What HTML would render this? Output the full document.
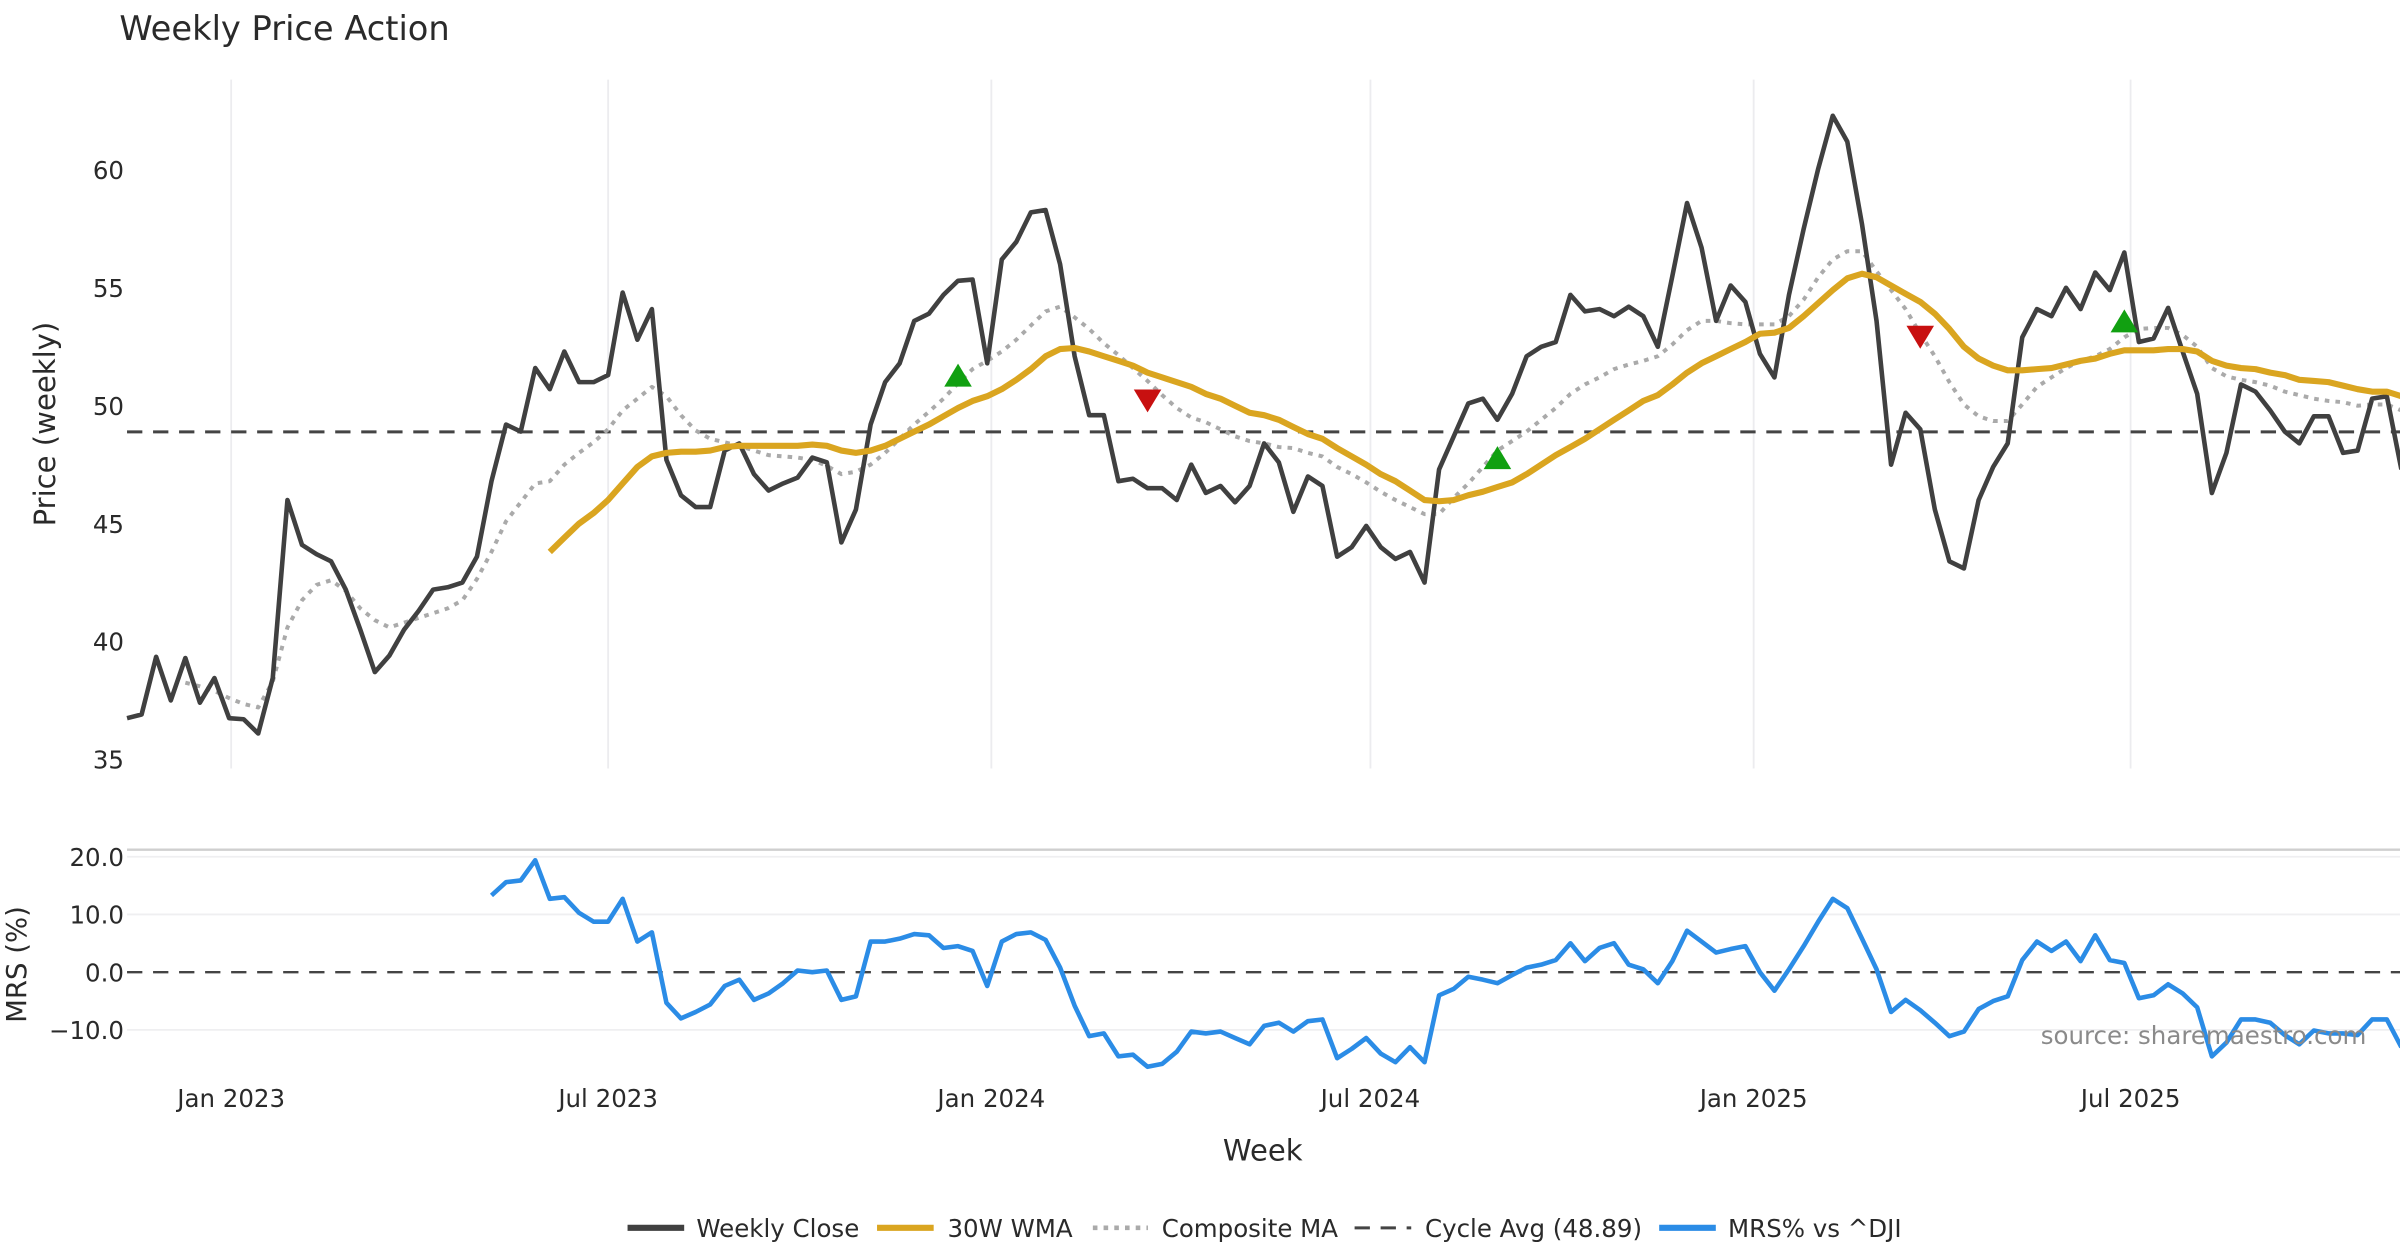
<!DOCTYPE html>
<html><head><meta charset="utf-8"><style>
html,body{margin:0;padding:0;background:#fff;}
svg{display:block;font-family:"DejaVu Sans","Liberation Sans",sans-serif;}
.tick{font-family:"DejaVu Sans","Liberation Sans",sans-serif;font-size:16px;fill:#2a2a2a;}
</style></head><body>
<svg id="chart" width="2400" height="1260" viewBox="0 0 1568 823" preserveAspectRatio="none" xmlns="http://www.w3.org/2000/svg">
<rect width="1568" height="823" fill="#fff"/>
<text x="78" y="26" font-size="22" fill="#2a2a2a">Weekly Price Action</text>
<g id="grid"></g>
<g id="series"></g>
<g id="axes"></g>
<text x="1546" y="682" font-size="16" fill="#8a8a8a" text-anchor="end">source: sharemaestro.com</text>
<text x="825" y="758" font-size="19" fill="#2a2a2a" text-anchor="middle">Week</text>
<text transform="translate(36,277) rotate(-90)" font-size="19" fill="#2a2a2a" text-anchor="middle">Price (weekly)</text>
<text transform="translate(17,630) rotate(-90)" font-size="18" fill="#2a2a2a" text-anchor="middle">MRS (%)</text>
<g id="legend">
 <g><line x1="410" y1="802" x2="447" y2="802" stroke="#404040" stroke-width="4"/><text x="455" y="808" class="tick">Weekly Close</text></g>
 <g><line x1="573" y1="802" x2="610" y2="802" stroke="#DAA520" stroke-width="4"/><text x="619" y="808" class="tick">30W WMA</text></g>
 <g><line x1="714" y1="802" x2="750" y2="802" stroke="#aaa" stroke-width="3" stroke-dasharray="3,4"/><text x="759" y="808" class="tick">Composite MA</text></g>
 <g><line x1="885" y1="802" x2="922" y2="802" stroke="#444" stroke-width="2" stroke-dasharray="10,7"/><text x="931" y="808" class="tick">Cycle Avg (48.89)</text></g>
 <g><line x1="1084" y1="802" x2="1121" y2="802" stroke="#2b8ce6" stroke-width="4"/><text x="1129" y="808" class="tick">MRS% vs ^DJI</text></g>
</g>
</svg>
<script>
const closeValues=[36.75,36.9,39.35,37.5,39.3,37.4,38.45,36.75,36.7,36.1,
38.45,46.0,44.1,43.7,43.4,42.2,40.5,38.7,39.4,40.5,
41.3,42.2,42.3,42.5,43.6,46.8,49.2,48.9,51.6,50.7,
52.3,51.0,51.0,51.3,54.8,52.8,54.1,47.7,46.2,45.7,
45.7,48.1,48.4,47.1,46.4,46.7,46.95,47.8,47.6,44.2,
45.6,49.2,51.0,51.8,53.6,53.9,54.7,55.3,55.35,51.8,
56.2,56.95,58.2,58.3,56.0,52.1,49.6,49.6,46.8,46.9,
46.5,46.5,46.0,47.5,46.3,46.6,45.9,46.6,48.4,47.6,
45.5,47.0,46.6,43.6,44.0,44.9,44.0,43.5,43.8,42.5,
47.3,48.7,50.1,50.3,49.4,50.5,52.1,52.5,52.7,54.7,
54.0,54.1,53.8,54.2,53.8,52.5,55.5,58.6,56.7,53.6,
55.1,54.4,52.2,51.2,54.7,57.5,60.05,62.3,61.2,57.7,
53.6,47.5,49.7,49.0,45.6,43.4,43.1,46.0,47.4,48.4,
52.9,54.1,53.8,55.0,54.1,55.65,54.9,56.5,52.7,52.85,
54.15,52.3,50.5,46.3,48.0,50.9,50.6,49.8,48.9,48.4,
49.55,49.55,48.0,48.1,50.3,50.4,47.3];
const wmaStart=29;
const wmaValues=[43.8,44.4,45.0,45.45,46.0,46.7,47.4,47.85,48.0,48.05,
48.05,48.1,48.25,48.3,48.3,48.3,48.3,48.3,48.35,48.3,
48.1,48.0,48.1,48.3,48.6,48.9,49.2,49.55,49.9,50.2,
50.4,50.7,51.1,51.55,52.1,52.4,52.45,52.3,52.1,51.9,
51.7,51.4,51.2,51.0,50.8,50.5,50.3,50.0,49.7,49.6,
49.4,49.1,48.8,48.6,48.2,47.85,47.5,47.1,46.8,46.4,
46.0,45.95,46.0,46.2,46.35,46.55,46.75,47.1,47.5,47.9,
48.25,48.6,49.0,49.4,49.8,50.2,50.45,50.9,51.4,51.8,
52.1,52.4,52.7,53.05,53.1,53.3,53.8,54.35,54.9,55.4,
55.6,55.45,55.1,54.75,54.4,53.9,53.25,52.5,52.0,51.7,
51.5,51.5,51.55,51.6,51.75,51.9,52.0,52.2,52.35,52.35,
52.35,52.4,52.4,52.3,51.9,51.7,51.6,51.55,51.4,51.3,
51.1,51.05,51.0,50.85,50.7,50.6,50.6,50.4];
const compStart=4;
const compValues=[38.25,38.1,37.9,37.6,37.35,37.2,38.3,40.6,41.75,42.4,
42.6,42.15,41.4,40.9,40.6,40.8,41.0,41.2,41.4,41.75,
42.65,43.8,45.1,45.9,46.7,46.8,47.5,48.0,48.45,49.0,
49.8,50.3,50.8,50.4,49.6,48.95,48.6,48.45,48.3,48.1,
47.9,47.85,47.8,47.7,47.45,47.1,47.2,47.5,48.0,48.6,
49.2,49.75,50.3,50.95,51.55,51.9,52.3,52.8,53.4,54.0,
54.2,53.75,53.25,52.65,52.15,51.6,51.05,50.45,49.9,49.5,
49.3,49.0,48.7,48.5,48.4,48.25,48.2,48.0,47.85,47.4,
47.1,46.75,46.35,46.0,45.7,45.4,45.4,46.1,46.7,47.4,
48.1,48.5,48.9,49.4,49.9,50.5,50.9,51.2,51.55,51.75,
51.9,52.1,52.6,53.2,53.6,53.6,53.5,53.45,53.45,53.45,
53.8,54.5,55.45,56.2,56.55,56.55,55.7,54.9,54.1,53.05,
52.1,51.0,50.05,49.55,49.35,49.35,50.05,50.8,51.2,51.6,
51.9,52.1,52.4,52.9,53.25,53.3,53.3,53.0,52.5,51.6,
51.25,51.1,51.0,50.85,50.6,50.45,50.3,50.2,50.15,50.0,
50.05,50.05,49.8];
const mrsStart=25;
const mrsValues=[13.3,15.6,15.9,19.4,12.7,13.0,10.3,8.75,8.75,12.7,
5.3,6.9,-5.3,-8.0,-6.9,-5.6,-2.4,-1.3,-4.8,-3.7,
-1.9,0.3,0,0.3,-4.8,-4.2,5.3,5.3,5.8,6.6,
6.4,4.2,4.5,3.7,-2.4,5.3,6.6,6.9,5.6,0.8,
-5.8,-11.1,-10.6,-14.6,-14.3,-16.4,-15.9,-13.8,-10.3,-10.6,
-10.3,-11.4,-12.5,-9.3,-8.75,-10.3,-8.5,-8.2,-14.9,-13.3,
-11.4,-14.1,-15.6,-13.0,-15.6,-4.0,-2.9,-0.8,-1.3,-1.9,
-0.5,0.8,1.3,2.1,5.0,1.9,4.2,5.0,1.3,0.5,
-1.9,1.9,7.2,5.3,3.4,4.0,4.5,0,-3.2,0.5,
4.5,8.75,12.7,11.1,5.8,0.5,-6.9,-4.8,-6.6,-8.75,
-11.1,-10.3,-6.4,-5.0,-4.2,2.1,5.3,3.7,5.3,1.9,
6.4,2.1,1.6,-4.5,-4.0,-2.1,-3.7,-6.1,-14.6,-12.2,
-8.2,-8.2,-8.75,-10.9,-12.5,-10.1,-10.6,-10.6,-10.9,-8.2,
-8.2,-13.0];
const cycleAvg=48.89;
const buyIdx=[57,94,137];
const buyVals=[51.2,47.7,53.5];
const sellIdx=[70,123];
const sellVals=[50.3,53.0];
const priceTicks=[35,40,45,50,55,60];
const mrsTicks=[20,10,0,-10];
const mrsTickLabels=["20.0","10.0","0.0","\u221210.0"];
const dateTicks=["2023-01-01","2023-07-01","2024-01-01","2024-07-01","2025-01-01","2025-07-01"];
const dateTickLabels=["Jan 2023","Jul 2023","Jan 2024","Jul 2024","Jan 2025","Jul 2025"];

const NS="http://www.w3.org/2000/svg";
const startMs=Date.UTC(2022,10,12);
const DAY=86400000;
function xDate(ms){return 83+(ms-startMs)/DAY*1.3607;}
function xIdx(i){return xDate(startMs+i*7*DAY);}
function yP(v){return 111+(60-v)*15.4;}
function yM(v){return 635-v*3.77;}
function mk(tag,attrs,parent){const e=document.createElementNS(NS,tag);for(const k in attrs)e.setAttribute(k,attrs[k]);parent.appendChild(e);return e;}
const grid=document.getElementById('grid'),ser=document.getElementById('series'),axes=document.getElementById('axes');
const L=83,R=1568;
dateTicks.forEach((d,k)=>{const p=d.split('-');const x=xDate(Date.UTC(+p[0],+p[1]-1,+p[2]));
 const g=mk('line',{x1:x,x2:x,y1:52,y2:502,stroke:'#ececef','stroke-width':1.2},grid);
 
 
 const t=mk('text',{x:x,y:723,'text-anchor':'middle',class:'tick'},axes);t.textContent=dateTickLabels[k];
 
 
});
priceTicks.forEach(v=>{const t=mk('text',{x:81,y:yP(v)+6,'text-anchor':'end',class:'tick'},axes);t.textContent=v;
 
 
});
mk('line',{x1:L,x2:R,y1:555,y2:555,stroke:'#cfcfcf','stroke-width':1.5},grid);
mrsTicks.forEach((v,k)=>{
 if(v!==0){const g=mk('line',{x1:L,x2:R,y1:yM(v),y2:yM(v),stroke:'#efeff1','stroke-width':1.2},grid);
 
 }
 const t=mk('text',{x:81,y:yM(v)+6,'text-anchor':'end',class:'tick'},axes);t.textContent=mrsTickLabels[k];
 
 
});
function path(vals,start,yf,attrs,name){let d='';vals.forEach((v,k)=>{if(v==null)return;d+=(d?'L':'M')+xIdx(start+k).toFixed(1)+','+yf(v).toFixed(1);});
 const p=mk('path',Object.assign({d:d,fill:'none','stroke-linejoin':'round'},attrs),ser);
 
 return p;}
const cy=mk('line',{x1:L,x2:R,y1:yP(cycleAvg),y2:yP(cycleAvg),stroke:'#444','stroke-width':2,'stroke-dasharray':'10,7'},ser);


const z=mk('line',{x1:L,x2:R,y1:yM(0),y2:yM(0),stroke:'#444','stroke-width':1.6,'stroke-dasharray':'10,7'},ser);


path(compValues,compStart,yP,{stroke:'#aaaaaa','stroke-width':2.6,'stroke-dasharray':'3,4'},'composite-ma-line');
path(closeValues,0,yP,{stroke:'#404040','stroke-width':3},'weekly-close-line');
path(wmaValues,wmaStart,yP,{stroke:'#DAA520','stroke-width':4},'wma-line');
path(mrsValues,mrsStart,yM,{stroke:'#2b8ce6','stroke-width':3},'mrs-line');
buyIdx.forEach((i,k)=>{const x=xIdx(i),y=yP(buyVals[k]);
 const m=mk('polygon',{points:`${x-9},${y+6} ${x+9},${y+6} ${x},${y-9}`,fill:'#11a011'},ser);
 
 });
sellIdx.forEach((i,k)=>{const x=xIdx(i),y=yP(sellVals[k]);
 const m=mk('polygon',{points:`${x-9},${y-6} ${x+9},${y-6} ${x},${y+9}`,fill:'#c81010'},ser);
 
 });
</script>
</body></html>
